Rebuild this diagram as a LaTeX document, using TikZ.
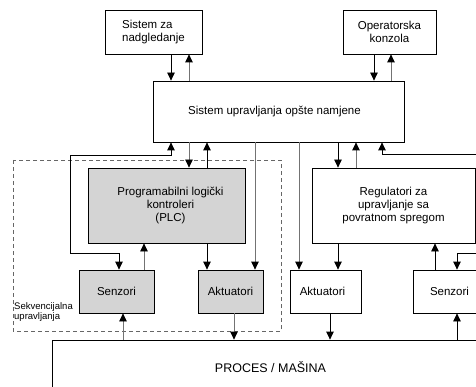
\documentclass[tikz,border=0pt]{standalone}
\usepackage{fontspec}
\setmainfont{Liberation Sans}
\usetikzlibrary{arrows.meta}
\tikzset{
  blk/.style={draw=black, line width=0.8pt, inner sep=0pt, align=center,
    font=\fontsize{11.5}{13}\selectfont},
  shaded/.style={blk, fill=black!17},
  arr/.style={line width=0.8pt, -{Triangle[length=8pt,width=7.5pt,color=black]}},
  arrboth/.style={line width=0.8pt, {Triangle[length=8pt,width=7.5pt,color=black]}-{Triangle[length=8pt,width=7.5pt,color=black]}},
  dim/.style={draw=black!55},
}
\begin{document}
\begin{tikzpicture}[x=1pt,y=-1pt]
\useasboundingbox (0,0) rectangle (476,387);
\clip (0,0) rectangle (476,387);

% sequential control group
\draw[black!60, line width=0.9pt, dash pattern=on 4pt off 3pt] (13,160) rectangle (281,331);
\node[anchor=north west, inner sep=0pt, align=left,
      font=\fontsize{9.5}{10.5}\selectfont] (seqlabel) at (14,302)
  {Sekvencijalna\\upravljanja};

% blocks
\node[blk, minimum width=97pt, minimum height=44pt, align=left] (nad) at (153.5,32) {Sistem za\\nadgledanje};
\node[blk, minimum width=93pt, minimum height=44pt] (op) at (389.5,32) {Operatorska\\konzola};
\node[blk, minimum width=251pt, minimum height=61pt] (main) at (278.5,111.5) {\hspace*{-8pt}Sistem upravljanja opšte namjene};
\node[shaded, minimum width=157pt, minimum height=75pt] (plc) at (166.5,205.5) {\hspace*{8pt}Programabilni logički\\\hspace*{8pt}kontroleri\\\hspace*{8pt}(PLC)};
\node[blk, minimum width=163pt, minimum height=75pt] (reg) at (393.5,205.5) {Regulatori za\\upravljanje sa\\povratnom spregom};
\node[shaded, minimum width=75pt, minimum height=43pt] (sg) at (116.5,291.5) {Senzori};
\node[shaded, minimum width=65pt, minimum height=43pt] (ag) at (230.5,291.5) {Aktuatori};
\node[blk, minimum width=71pt, minimum height=43pt] (aw) at (325.5,291.5) {\hspace*{-6pt}Aktuatori};
\node[blk, minimum width=73pt, minimum height=43pt] (sw) at (449.5,291.5) {Senzori};
\node[blk, minimum width=437pt, minimum height=54pt, font=\fontsize{12.5}{14}\selectfont] (proc) at (270.5,367) {PROCES / MAŠINA};

% links to the supervisory level
\draw[arr] (nad.south -| 171,0) -- (main.north -| 171,0);
\draw[arr, dim] (main.north -| 189,0) -- (nad.south -| 189,0);
\draw[arr] (op.south -| 374,0) -- (main.north -| 374,0);
\draw[arr, dim] (main.north -| 391,0) -- (op.south -| 391,0);

% links below the general control system
\draw[arrboth] (main.south -| 171,0) -- (171,155) -- (70,155) -- (70,253) -- (119,253) -- (sg.north -| 119,0);
\draw[arr, dim] (main.south -| 189,0) -- (plc.north -| 189,0);
\draw[arr] (plc.north -| 207,0) -- (main.south -| 207,0);
\draw[arr, dim] (main.south -| 255,0) -- (ag.north -| 255,0);
\draw[arr, dim] (main.south -| 299,0) -- (aw.north -| 299,0);
\draw[arr] (main.south -| 338,0) -- (reg.north -| 338,0);
\draw[arr, dim] (reg.north -| 356,0) -- (main.south -| 356,0);
\draw[arrboth] (main.south -| 382,0) -- (382,154) -- (492,154) -- (492,253) -- (457,253) -- (sw.north -| 457,0);

% controllers and field devices
\draw[arr, dim] (sg.north -| 144,0) -- (plc.south -| 144,0);
\draw[arr] (plc.south -| 207,0) -- (ag.north -| 207,0);
\draw[arr] (reg.south -| 338,0) -- (aw.north -| 338,0);
\draw[arr] (sw.north -| 435,0) -- (reg.south -| 435,0);

% field devices and the process
\draw[arr, dim] (proc.north -| 123,0) -- (sg.south -| 123,0);
\draw[arr, dim] (ag.south -| 234,0) -- (proc.north -| 234,0);
\draw[arr] (aw.south -| 330,0) -- (proc.north -| 330,0);
\draw[arr] (proc.north -| 457,0) -- (sw.south -| 457,0);
\end{tikzpicture}
\end{document}
